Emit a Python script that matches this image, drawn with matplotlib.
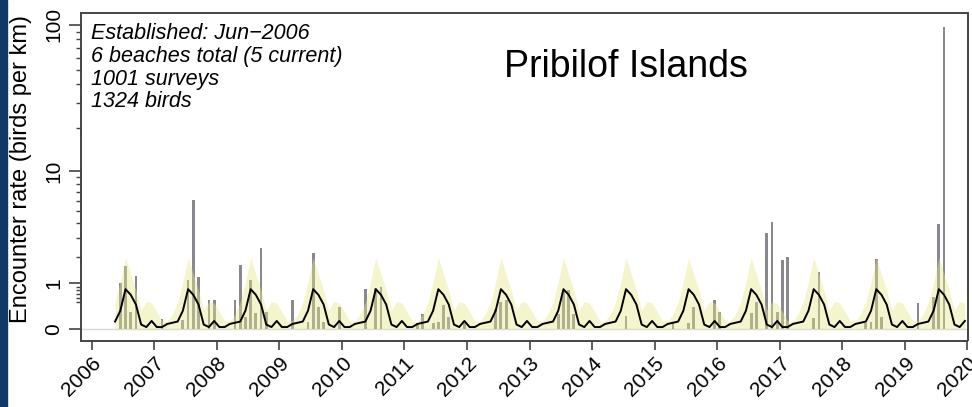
import numpy as np
import matplotlib
matplotlib.use("Agg")
import matplotlib.pyplot as plt
from matplotlib.patches import Rectangle
from matplotlib.ticker import FixedLocator, NullFormatter

plt.rcParams['font.family'] = ['Liberation Sans', 'DejaVu Sans']

# ---------------- data ----------------
# monthly survey encounter rates (birds per km); only non-zero months listed
bar_year = [2006, 2006, 2006, 2006,
            2007, 2007, 2007, 2007, 2007, 2007, 2007,
            2008, 2008, 2008, 2008, 2008, 2008, 2008,
            2009, 2009, 2009, 2009, 2009, 2009,
            2010, 2010, 2010,
            2011, 2011, 2011, 2011, 2011, 2011, 2011,
            2012, 2012, 2012,
            2013, 2013, 2013, 2013,
            2014,
            2015, 2015, 2015, 2015,
            2016, 2016, 2016, 2016, 2016, 2016,
            2017, 2017, 2017, 2017,
            2018, 2018, 2018, 2018,
            2019, 2019, 2019, 2019]
bar_month = [6, 7, 8, 9,
             2, 6, 7, 8, 9, 11, 12,
             4, 5, 6, 7, 8, 9, 10,
             3, 6, 7, 8, 9, 12,
             5, 7, 8,
             3, 4, 6, 7, 8, 9, 12,
             6, 7, 8,
             6, 7, 8, 9,
             7,
             4, 7, 8, 12,
             1, 7, 8, 10, 11, 12,
             1, 2, 7, 8,
             5, 6, 7, 8,
             3, 6, 7, 8]
bar_value = [1.0, 1.6, 0.3, 1.24,
             0.16, 0.15, 1.1, 6.1, 1.21, 0.55, 0.55,
             0.55, 1.64, 0.2, 1.1, 0.27, 2.4, 0.3,
             0.55, 0.12, 2.15, 0.4, 0.12, 0.4,
             0.83, 0.85, 0.88,
             0.09, 0.26, 0.09, 0.12, 0.45, 0.2, 0.09,
             0.35, 0.5, 0.55,
             0.26, 0.8, 0.8, 0.25,
             0.22,
             0.12, 0.1, 0.4, 0.55,
             0.3, 0.27, 0.5, 3.3, 4.1, 0.3,
             1.85, 2.0, 0.19, 1.39,
             0.1, 0.12, 1.89, 0.2,
             0.49, 0.63, 3.9, 97.0]

# seasonal model fit (Jan..Dec) and upper bound of its envelope
fit_by_month = [0.03, 0.03, 0.08, 0.10, 0.12, 0.32, 0.83, 0.68, 0.45, 0.07, 0.03, 0.13]
band_hi_by_month = [0.3, 0.13, 0.13, 0.25, 0.5, 1.05, 1.95, 1.3, 0.8, 0.33, 0.52, 0.48]
fit_start = (2006, 5)
fit_end = (2019, 12)

year_ticks = list(range(2006, 2021))
y_major = [0, 1, 10, 100]
y_minor = [0.5, 0.6, 0.7, 0.8, 0.9, 2, 3, 4, 5, 6, 7, 8, 9,
           20, 30, 40, 50, 60, 70, 80, 90]

info_lines = ["Established: Jun\u22122006", "6 beaches total (5 current)",
              "1001 surveys", "1324 birds"]
region_name = "Pribilof Islands"
ylabel = "Encounter rate (birds per km)"

# ---------------- figure ----------------
W, H = 972, 407
fig = plt.figure(figsize=(W / 100, H / 100), dpi=100)
L, R, T, B = 81, 967.5, 13, 340.5
ax = fig.add_axes([L / W, 1 - B / H, (R - L) / W, (B - T) / H])

fig.patches.append(Rectangle((0, 0), 7 / W, 1, transform=fig.transFigure,
                             color='#0f3a68', zorder=0))

fwd = lambda v: np.log10(np.maximum(1 + np.asarray(v, dtype=float), 1e-9))
inv = lambda t: 10 ** np.asarray(t, dtype=float) - 1
ax.set_yscale('function', functions=(fwd, inv))

# month mid-points of the model series
n_months = (fit_end[0] - fit_start[0]) * 12 + (fit_end[1] - fit_start[1]) + 1
mi = np.arange(n_months) + (fit_start[1] - 1)
fit_x = fit_start[0] + (mi + 0.5) / 12.0
fit_y = np.array(fit_by_month)[mi % 12]
band_y = np.array(band_hi_by_month)[mi % 12]

bx = np.array(bar_year) + (np.array(bar_month) - 0.5) / 12.0
ax.axhline(0, color='#d8d8d8', lw=1.0, zorder=0.5)
ax.bar(bx, bar_value, width=0.045, color='#888890', linewidth=0, zorder=1)
ax.fill_between(fit_x, 0, band_y, color='#e8e88a', alpha=0.42, linewidth=0, zorder=2)
ax.plot(fit_x, fit_y, color='black', lw=1.4, zorder=3)

ax.set_xlim(2005.83, 2020.0)
ax.set_ylim(-0.16, 120)

ax.set_xticks(year_ticks)
ax.set_xticklabels([str(y) for y in year_ticks], fontsize=15, rotation=45,
                   ha='right', va='top', rotation_mode='anchor')
ax.tick_params(axis='x', length=6.5, width=1.2, color='#444444', pad=3)

ax.yaxis.set_major_locator(FixedLocator(y_major))
ax.yaxis.set_minor_locator(FixedLocator(y_minor))
ax.yaxis.set_minor_formatter(NullFormatter())
ax.set_yticklabels([str(v) for v in y_major], fontsize=15, rotation=90, va='center')
ax.tick_params(axis='y', which='major', length=9, width=1.2, color='#444444', pad=4)
ax.tick_params(axis='y', which='minor', length=3.6, width=1.0, color='#444444')

ax.set_ylabel(ylabel, fontsize=17, va='center')
ax.yaxis.set_label_coords((21 - L) / (R - L), (B - 169) / (B - T))

for s in ax.spines.values():
    s.set_color('#444444')
    s.set_linewidth(1.4)

baselines = [39, 62, 85, 107]
for txt, yb in zip(info_lines, baselines):
    fig.text(91 / W, 1 - yb / H, txt, fontsize=15.5, style='italic',
             ha='left', va='baseline')
fig.text(748 / W, 1 - 77 / H, region_name, fontsize=27, ha='right', va='baseline')

fig.savefig('out.png', dpi=100)
